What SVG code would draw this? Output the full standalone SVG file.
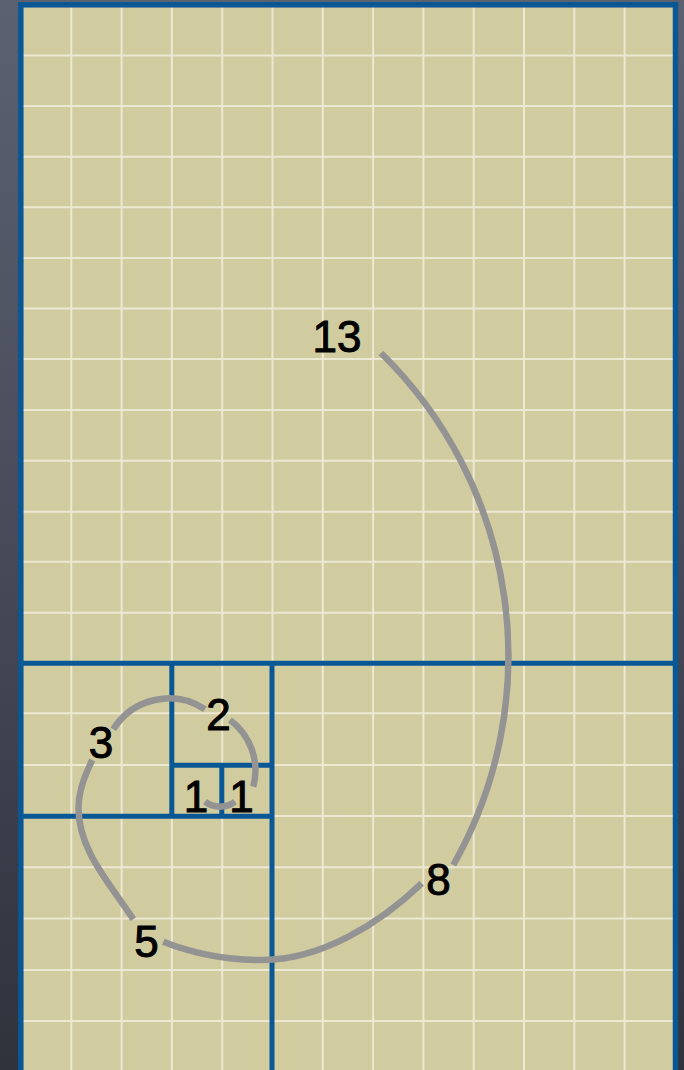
<svg xmlns="http://www.w3.org/2000/svg" width="684" height="1070" viewBox="0 0 684 1070">
  <defs>
    <linearGradient id="bg" x1="0" y1="0" x2="0" y2="1">
      <stop offset="0" stop-color="#5c6172"/>
      <stop offset="0.5" stop-color="#474b59"/>
      <stop offset="1" stop-color="#30323c"/>
    </linearGradient>
    <style>
      .grid line { stroke: #ece8d2; stroke-width: 2; }
      .blue { stroke: #0a5795; stroke-width: 5; fill: none; }
      .spiral { stroke: #939393; stroke-width: 6.5; fill: none; stroke-linecap: butt; }
      .lbl { font-family: "Liberation Sans", Arial, sans-serif; font-size: 44px; fill: #000; stroke: #000; stroke-width: 1; text-anchor: middle; }
    </style>
  </defs>
  <rect x="0" y="0" width="684" height="1070" fill="url(#bg)"/>
  <g id="sheet">
    <rect x="20.8" y="4.8" width="654.7" height="1080" fill="#d1cba0"/>
  </g>
  <g id="grid" class="grid">
    <line x1="71.3" y1="5" x2="71.3" y2="1070"/>
    <line x1="121.6" y1="5" x2="121.6" y2="1070"/>
    <line x1="171.9" y1="5" x2="171.9" y2="1070"/>
    <line x1="222.2" y1="5" x2="222.2" y2="1070"/>
    <line x1="272.5" y1="5" x2="272.5" y2="1070"/>
    <line x1="322.8" y1="5" x2="322.8" y2="1070"/>
    <line x1="373.1" y1="5" x2="373.1" y2="1070"/>
    <line x1="423.4" y1="5" x2="423.4" y2="1070"/>
    <line x1="473.7" y1="5" x2="473.7" y2="1070"/>
    <line x1="524" y1="5" x2="524" y2="1070"/>
    <line x1="574.3" y1="5" x2="574.3" y2="1070"/>
    <line x1="624.6" y1="5" x2="624.6" y2="1070"/>
    <line x1="21" y1="55.5" x2="675" y2="55.5"/>
    <line x1="21" y1="106.1" x2="675" y2="106.1"/>
    <line x1="21" y1="156.7" x2="675" y2="156.7"/>
    <line x1="21" y1="207.3" x2="675" y2="207.3"/>
    <line x1="21" y1="257.9" x2="675" y2="257.9"/>
    <line x1="21" y1="308.5" x2="675" y2="308.5"/>
    <line x1="21" y1="359" x2="675" y2="359"/>
    <line x1="21" y1="410" x2="675" y2="410"/>
    <line x1="21" y1="460.7" x2="675" y2="460.7"/>
    <line x1="21" y1="511.7" x2="675" y2="511.7"/>
    <line x1="21" y1="561.7" x2="675" y2="561.7"/>
    <line x1="21" y1="612.7" x2="675" y2="612.7"/>
    <line x1="21" y1="713.3" x2="675" y2="713.3"/>
    <line x1="21" y1="765" x2="675" y2="765"/>
    <line x1="21" y1="816" x2="675" y2="816"/>
    <line x1="21" y1="867.3" x2="675" y2="867.3"/>
    <line x1="21" y1="918.6" x2="675" y2="918.6"/>
    <line x1="21" y1="970" x2="675" y2="970"/>
    <line x1="21" y1="1021" x2="675" y2="1021"/>
  </g>
  <g id="squares">
    <rect id="frame" class="blue" x="20.8" y="4.8" width="654.7" height="1080" style="stroke-width:5.5"/>
    <line id="sq13-bottom" class="blue" x1="21" y1="663.3" x2="675" y2="663.3"/>
    <line id="sq8-left" class="blue" x1="272" y1="663.3" x2="272" y2="1075"/>
    <line id="sq5-top" class="blue" x1="21" y1="816.3" x2="272" y2="816.3"/>
    <line id="sq3-right" class="blue" x1="171.8" y1="663.3" x2="171.8" y2="816.3"/>
    <line id="sq2-bottom" class="blue" x1="171.8" y1="765.2" x2="272" y2="765.2"/>
    <line id="sq1-divider" class="blue" x1="221.8" y1="765.2" x2="221.8" y2="816.3"/>
  </g>
  <g id="spiral" class="spiral">
    <path d="M 381 353 A 424 424 0 0 1 453.3 865"/>
    <path d="M 421.7 883.3 C 379.2 924 321 960 262 960 C 229 960 194 953.9 163.3 941.7"/>
    <path d="M 133.3 919.3 C 108.6 881.9 78.5 850 78.5 808 C 78.5 791 84.65 775.1 92.3 760"/>
    <path d="M 113.3 729.3 A 65.5 65.5 0 0 1 205 709.3"/>
    <path d="M 230 720 A 62.8 62.8 0 0 1 253.3 786.7"/>
    <path d="M 235 801.7 A 25 25 0 0 1 205 801.7"/>
  </g>
  <g id="labels">
    <text class="lbl" x="337" y="352">13</text>
    <text class="lbl" x="438.5" y="895">8</text>
    <text class="lbl" x="146.5" y="957">5</text>
    <text class="lbl" x="101" y="758">3</text>
    <text class="lbl" x="218.5" y="730">2</text>
    <text class="lbl" x="196" y="812">1</text>
    <text class="lbl" x="241.5" y="812">1</text>
  </g>
</svg>
